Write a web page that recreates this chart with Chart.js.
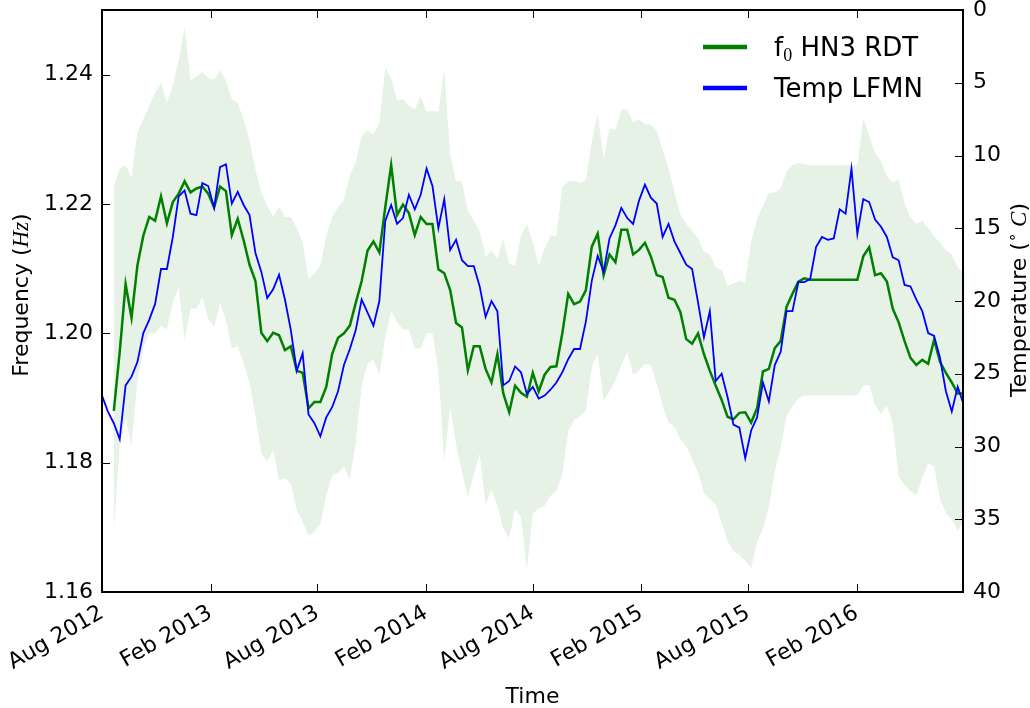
<!DOCTYPE html>
<html>
<head>
<meta charset="utf-8">
<script src="https://cdn.jsdelivr.net/npm/chart.js@4.4.1/dist/chart.umd.min.js"></script>
<style>
  html, body { margin: 0; padding: 0; background: #fff; }
  canvas { display: block; }
</style>
</head>
<body>
<canvas id="chart" width="1030" height="708" style="width:1030px;height:708px"></canvas>
<script>
// Sampling grid: one value every 10 days starting 1 Aug 2012
const startDate = '2012-08-01';
const endDate = '2016-07-30';
const stepDays = 10;

const tickDates = ['2012-08-01', '2013-02-01', '2013-08-01', '2014-02-01',
                   '2014-08-01', '2015-02-01', '2015-08-01', '2016-02-01'];
const tickLabels = ['Aug 2012', 'Feb 2013', 'Aug 2013', 'Feb 2014',
                    'Aug 2014', 'Feb 2015', 'Aug 2015', 'Feb 2016'];
const freqTicks = [1.16, 1.18, 1.20, 1.22, 1.24];
const tempTicks = [0, 5, 10, 15, 20, 25, 30, 35, 40];

// Fundamental frequency of the HN3 RDT sensor (Hz)
const f0HN3 = [
  null, null, 1.188, 1.1971, 1.2076, 1.2024, 1.2105, 1.2151, 1.218, 1.2174,
  1.2212, 1.217, 1.2203, 1.2216, 1.2235, 1.2218, 1.2224, 1.2227, 1.2216, 1.2195,
  1.2227, 1.222, 1.2152, 1.2177, 1.2144, 1.2106, 1.2081, 1.2001, 1.1988, 1.2001,
  1.1997, 1.1974, 1.198, 1.1942, 1.1939, 1.1884, 1.1894, 1.1894, 1.1917, 1.1968,
  1.1993, 1.2, 1.2012, 1.2047, 1.2081, 1.2128, 1.2142, 1.2125, 1.2195, 1.226,
  1.2183, 1.2199, 1.2186, 1.2152, 1.218, 1.2169, 1.2169, 1.2099, 1.2093, 1.2067,
  1.2016, 1.2009, 1.1943, 1.198, 1.198, 1.1945, 1.1924, 1.1968, 1.1907, 1.1878,
  1.1919, 1.1908, 1.1902, 1.1939, 1.191, 1.1936, 1.1948, 1.1949, 1.2, 1.2061,
  1.2045, 1.2049, 1.2067, 1.2134, 1.2154, 1.209, 1.2122, 1.211, 1.216, 1.216,
  1.2122, 1.2129, 1.214, 1.2119, 1.209, 1.2087, 1.2055, 1.2052, 1.2033, 1.1991,
  1.1984, 1.2, 1.1968, 1.1942, 1.1919, 1.1897, 1.1871, 1.1867, 1.1877, 1.1878,
  1.1862, 1.1884, 1.1941, 1.1945, 1.1977, 1.1988, 1.2041, 1.2061, 1.208, 1.2085,
  1.2083, null, null, null, null, null, null, null, 1.2083, 1.2119,
  1.2133, 1.209, 1.2093, 1.208, 1.2038, 1.2017, 1.1988, 1.1962, 1.1951, 1.1959,
  1.1953, 1.199, 1.1956, 1.1939, 1.1924, 1.1907, 1.1907
];

// Spread of the frequency estimate (upper and lower envelope, Hz)
const f0Upper = [
  null, null, 1.2227, 1.2255, 1.2260, 1.2241, 1.2311, 1.2331, 1.2352, 1.2372,
  1.2387, 1.2356, 1.2384, 1.2422, 1.2474, 1.2392, 1.2397, 1.2404, 1.2395, 1.2392,
  1.2407, 1.2391, 1.2362, 1.2356, 1.2331, 1.2298, 1.2253, 1.2218, 1.2197, 1.218,
  1.2196, 1.218, 1.218, 1.2163, 1.214, 1.2084, 1.2093, 1.2105, 1.2151, 1.218,
  1.2195, 1.2206, 1.2244, 1.2265, 1.2305, 1.2314, 1.2308, 1.2326, 1.241, 1.2395,
  1.236, 1.2362, 1.2352, 1.2346, 1.2367, 1.2343, 1.2344, 1.2343, 1.2407, 1.2276,
  1.2235, 1.2235, 1.2189, 1.2174, 1.2158, 1.2119, 1.2128, 1.2116, 1.2145, 1.2108,
  1.2105, 1.215, 1.2169, 1.2141, 1.2105, 1.2131, 1.2151, 1.2151, 1.2227, 1.2235,
  1.2235, 1.2233, 1.2237, 1.2297, 1.234, 1.227, 1.2317, 1.2314, 1.2346, 1.2346,
  1.2326, 1.2331, 1.2323, 1.2323, 1.2313, 1.2283, 1.2256, 1.2218, 1.2184, 1.2169,
  1.2159, 1.2147, 1.2126, 1.2122, 1.2102, 1.2098, 1.2073, 1.2077, 1.2081, 1.2078,
  1.2142, 1.2177, 1.2197, 1.2217, 1.2218, 1.2224, 1.225, 1.226, 1.2263, 1.2262,
  1.226, 1.226, 1.226, 1.226, 1.226, 1.226, 1.226, 1.226, 1.226, 1.2333,
  1.2305, 1.2279, 1.2266, 1.2243, 1.2233, 1.2238, 1.2201, 1.2179, 1.2169, 1.2174,
  1.2163, 1.215, 1.214, 1.2129, 1.2122, 1.2102, 1.2093
];
const f0Lower = [
  null, null, 1.1692, 1.1826, 1.1869, 1.1826, 1.1927, 1.1977, 1.2, 1.2,
  1.2012, 1.2006, 1.2049, 1.207, 1.1988, 1.2038, 1.2038, 1.2055, 1.2023, 1.2009,
  1.2047, 1.202, 1.1977, 1.198, 1.1953, 1.1924, 1.1872, 1.1814, 1.1802, 1.182,
  1.1773, 1.1776, 1.1767, 1.1727, 1.1709, 1.1687, 1.1693, 1.1705, 1.175, 1.178,
  1.1784, 1.1794, 1.1773, 1.1831, 1.1919, 1.1953, 1.1959, 1.1936, 1.1993, 1.2035,
  1.2017, 1.2006, 1.2006, 1.1977, 1.1977, 1.2, 1.2, 1.1942, 1.1802, 1.1887,
  1.1828, 1.1785, 1.1747, 1.1782, 1.1814, 1.1735, 1.1759, 1.1733, 1.1698, 1.1683,
  1.1728, 1.1715, 1.1634, 1.1721, 1.173, 1.1733, 1.1749, 1.1756, 1.1782, 1.1849,
  1.1866, 1.1872, 1.1881, 1.1948, 1.1968, 1.1895, 1.191, 1.1927, 1.1951, 1.1971,
  1.1936, 1.1942, 1.1953, 1.1951, 1.1922, 1.1888, 1.1862, 1.1856, 1.1836, 1.1826,
  1.1805, 1.1785, 1.1753, 1.1744, 1.1735, 1.1708, 1.1679, 1.1663, 1.1658, 1.1648,
  1.1637, 1.1677, 1.1697, 1.1732, 1.1785, 1.1823, 1.1872, 1.1888, 1.1899, 1.1904,
  1.1904, 1.1904, 1.1904, 1.1904, 1.1904, 1.1904, 1.1904, 1.1904, 1.1904, 1.1919,
  1.192, 1.189, 1.1875, 1.1888, 1.186, 1.1779, 1.1765, 1.1756, 1.175, 1.1776,
  1.1799, 1.1795, 1.1744, 1.1722, 1.1712, 1.1695, 1.1709
];

// Air temperature at LFMN (°C)
const tempLFMN = [
  26.5, 27.6, 28.4, 29.5, 25.8, 25.2, 24.2, 22.2, 21.3, 20.2,
  17.8, 17.8, 15.6, 12.8, 12.4, 14.0, 14.1, 11.9, 12.1, 13.6,
  10.8, 10.6, 13.3, 12.5, 13.4, 14.1, 16.7, 18.0, 19.8, 19.2,
  18.2, 19.9, 22.0, 24.8, 23.6, 27.8, 28.4, 29.3, 28.0, 27.3,
  26.2, 24.4, 23.3, 22.0, 19.9, 20.8, 21.7, 20.0, 14.5, 13.4,
  14.7, 14.3, 12.7, 13.7, 12.7, 10.9, 12.1, 15.0, 13.0, 16.5,
  15.8, 17.2, 17.6, 17.6, 19.0, 21.1, 20.0, 20.7, 25.8, 25.5,
  24.5, 24.9, 26.4, 25.9, 26.7, 26.5, 26.1, 25.6, 24.9, 24.0,
  23.3, 23.3, 21.4, 18.6, 16.9, 18.0, 15.7, 14.8, 13.6, 14.3,
  14.7, 13.1, 12.0, 12.9, 13.3, 15.6, 14.7, 15.9, 16.7, 17.5,
  17.8, 20.1, 22.5, 20.7, 25.5, 25.0, 26.6, 28.5, 28.7, 30.8,
  28.9, 28.0, 25.6, 26.9, 24.4, 23.5, 20.7, 20.7, 18.7, 18.7,
  18.5, 16.3, 15.6, 15.8, 15.7, 13.7, 14.0, 10.9, 15.4, 13.0,
  13.2, 14.4, 14.9, 15.6, 17.0, 17.2, 18.9, 19.0, 19.9, 20.7,
  22.2, 22.4, 23.9, 26.2, 27.6, 25.9, 27.1
];

const GREEN = '#008000';
const BLUE = '#0000ff';
const BAND = 'rgba(0, 128, 0, 0.1)';
const SANS = '"DejaVu Sans", sans-serif';
const MATH = '"Liberation Serif", serif';

const DAY_MS = 86400000;
const dayOf = s => (Date.parse(s) - Date.parse(startDate)) / DAY_MS;
const toPoints = arr => arr.map((v, i) => ({ x: i * stepDays, y: v }));

// Draws a sequence of differently styled text runs, centred on (x, y) along the baseline
function drawRuns(ctx, runs, x, y, rotation, align) {
  ctx.save();
  ctx.translate(x, y);
  ctx.rotate(rotation || 0);
  ctx.textBaseline = 'alphabetic';
  ctx.textAlign = 'left';
  ctx.fillStyle = '#000';
  let total = 0;
  runs.forEach(r => { ctx.font = r.font; r.w = ctx.measureText(r.text).width; total += r.w; });
  let cx = align === 'left' ? 0 : -total / 2;
  runs.forEach(r => {
    ctx.font = r.font;
    ctx.fillText(r.text, cx, r.dy || 0);
    cx += r.w;
  });
  ctx.restore();
}

// Fixed plot-area margins: scales get exact sizes and no extra label padding
function fixSize(prop, size) {
  return s => {
    s[prop] = size;
    s.paddingTop = 0; s.paddingBottom = 0;
    s.paddingLeft = 0; s.paddingRight = 0;
  };
}

// Plot frame with inward tick marks on all four sides
const framePlugin = {
  id: 'frame',
  afterDatasetsDraw(chart) {
    const { ctx, chartArea: a, scales } = chart;
    const L = 8;
    ctx.save();
    ctx.strokeStyle = '#000';
    ctx.lineWidth = 1;
    ctx.beginPath();
    scales.x.ticks.forEach(t => {
      const p = Math.round(scales.x.getPixelForValue(t.value)) + 0.5;
      ctx.moveTo(p, a.bottom); ctx.lineTo(p, a.bottom - L);
      ctx.moveTo(p, a.top); ctx.lineTo(p, a.top + L);
    });
    scales.yF.ticks.forEach(t => {
      const p = Math.round(scales.yF.getPixelForValue(t.value)) + 0.5;
      ctx.moveTo(a.left, p); ctx.lineTo(a.left + L, p);
    });
    scales.yT.ticks.forEach(t => {
      const p = Math.round(scales.yT.getPixelForValue(t.value)) + 0.5;
      ctx.moveTo(a.right, p); ctx.lineTo(a.right - L, p);
    });
    ctx.stroke();
    ctx.lineWidth = 2;
    ctx.strokeRect(a.left, a.top, a.right - a.left, a.bottom - a.top);
    ctx.restore();
  }
};

// Legend in the upper right corner of the plot
const legendPlugin = {
  id: 'cornerLegend',
  afterDraw(chart) {
    const { ctx } = chart;
    const entries = [
      { color: GREEN, y: 47, runs: [
        { text: 'f', font: `26px ${SANS}` },
        { text: '0', font: `18px ${MATH}`, dy: 5 },
        { text: ' HN3 RDT', font: `26px ${SANS}` } ] },
      { color: BLUE, y: 88, runs: [
        { text: 'Temp LFMN', font: `26px ${SANS}` } ] }
    ];
    ctx.save();
    entries.forEach(e => {
      ctx.strokeStyle = e.color;
      ctx.lineWidth = 4.5;
      ctx.beginPath();
      ctx.moveTo(703, e.y); ctx.lineTo(747, e.y);
      ctx.stroke();
      drawRuns(ctx, e.runs, 774, e.y + 9, 0, 'left');
    });
    ctx.restore();
  }
};

// Axis titles (with italic unit symbols)
const titlePlugin = {
  id: 'axisTitles',
  afterDraw(chart) {
    const { ctx, chartArea: a } = chart;
    const cx = (a.left + a.right) / 2;
    drawRuns(ctx, [{ text: 'Time', font: `22px ${SANS}` }], cx, 703, 0);
    drawRuns(ctx, [
      { text: 'Frequency (', font: `22px ${SANS}` },
      { text: 'Hz', font: `italic 23px ${MATH}` },
      { text: ')', font: `22px ${SANS}` }
    ], 28, 295, -Math.PI / 2);
    drawRuns(ctx, [
      { text: 'Temperature (', font: `22px ${SANS}` },
      { text: '\u2218', font: `15px ${SANS}`, dy: -9 },
      { text: ' C', font: `italic 23px ${MATH}` },
      { text: ')', font: `22px ${SANS}` }
    ], 1026, 300, -Math.PI / 2);
  }
};

Chart.defaults.font.family = SANS;
Chart.defaults.font.size = 22;
Chart.defaults.color = '#000';

new Chart(document.getElementById('chart').getContext('2d'), {
  type: 'line',
  data: {
    datasets: [
      { label: 'Temp LFMN', data: toPoints(tempLFMN), yAxisID: 'yT',
        borderColor: BLUE, borderWidth: 1.8, pointRadius: 0, fill: false, order: 0 },
      { label: 'f0 HN3 RDT', data: toPoints(f0HN3), yAxisID: 'yF',
        borderColor: GREEN, borderWidth: 2.5, pointRadius: 0, fill: false, spanGaps: true, order: 1 },
      { label: 'upper', data: toPoints(f0Upper), yAxisID: 'yF',
        borderColor: 'rgba(0,0,0,0)', borderWidth: 0, pointRadius: 0,
        backgroundColor: BAND, fill: '+1', order: 2 },
      { label: 'lower', data: toPoints(f0Lower), yAxisID: 'yF',
        borderColor: 'rgba(0,0,0,0)', borderWidth: 0, pointRadius: 0, fill: false, order: 3 }
    ]
  },
  options: {
    responsive: false,
    animation: false,
    devicePixelRatio: 1,
    layout: { padding: { top: 10, left: 0, right: 0, bottom: 0 } },
    plugins: { legend: { display: false }, tooltip: { enabled: false } },
    elements: { line: { tension: 0 } },
    scales: {
      x: {
        type: 'linear',
        min: 0,
        max: dayOf(endDate),
        grid: { display: false, drawTicks: false },
        border: { display: false },
        afterBuildTicks: s => { s.ticks = tickDates.map(d => ({ value: dayOf(d) })); },
        afterFit: fixSize('height', 116),
        ticks: {
          autoSkip: false, minRotation: 30, maxRotation: 30, padding: 8,
          callback: (v, i) => tickLabels[i]
        }
      },
      yF: {
        type: 'linear',
        position: 'left',
        min: 1.16,
        max: 1.25,
        grid: { display: false, drawTicks: false },
        border: { display: false },
        afterBuildTicks: s => { s.ticks = freqTicks.map(v => ({ value: v })); },
        afterFit: fixSize('width', 102),
        ticks: { padding: 9, callback: v => v.toFixed(2) }
      },
      yT: {
        type: 'linear',
        position: 'right',
        min: 0,
        max: 40,
        reverse: true,
        grid: { display: false, drawTicks: false },
        border: { display: false },
        afterBuildTicks: s => { s.ticks = tempTicks.map(v => ({ value: v })); },
        afterFit: fixSize('width', 67),
        ticks: { padding: 10, callback: v => String(v) }
      }
    }
  },
  plugins: [framePlugin, legendPlugin, titlePlugin]
});
</script>
</body>
</html>
